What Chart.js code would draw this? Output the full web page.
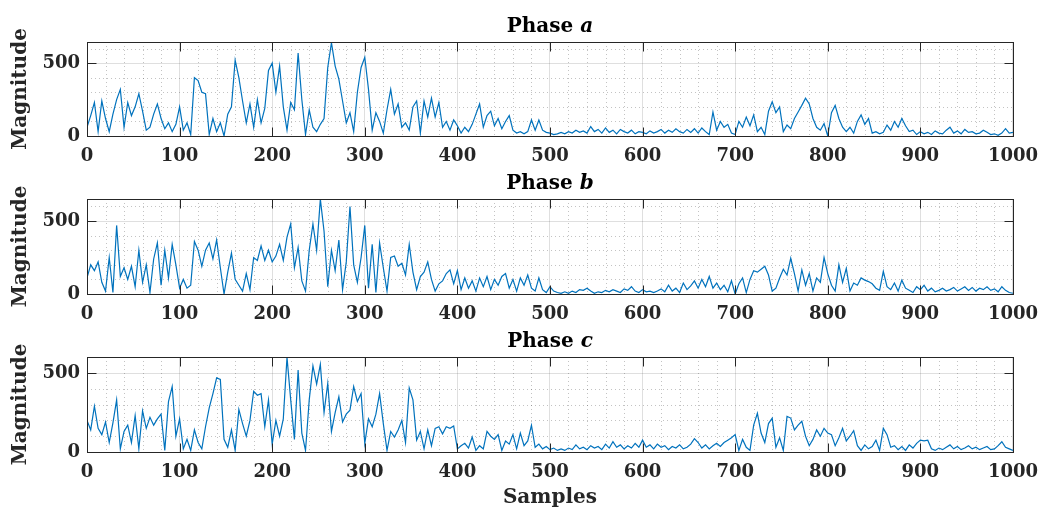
<!DOCTYPE html>
<html>
<head>
<meta charset="utf-8">
<script src="https://cdn.jsdelivr.net/npm/chart.js@4.4.1/dist/chart.umd.min.js"></script>
<style>
  html, body { margin: 0; padding: 0; background: #fff; }
  #wrap { position: relative; width: 1048px; height: 510px; overflow: hidden; }
  canvas { position: absolute; left: 0; }
</style>
</head>
<body>
<div id="wrap">
  <canvas id="phase-a" width="1048" height="170" style="top:0px"></canvas>
  <canvas id="phase-b" width="1048" height="160" style="top:170px"></canvas>
  <canvas id="phase-c" width="1048" height="180" style="top:330px"></canvas>
</div>
<script>
// magnitudes sampled every 4 samples, 0..1000
const sampleStep = 4;
const xTicks = [0, 100, 200, 300, 400, 500, 600, 700, 800, 900, 1000];
const yTicks = [0, 500];

const phaseA = [
  60, 140, 230, 30, 240, 120, 30, 150, 250, 320,      // 0
  60, 230, 140, 200, 290, 170, 40, 60, 150, 220,      // 40
  120, 50, 90, 30, 80, 200, 40, 90, 10, 400,          // 80
  380, 300, 290, 10, 120, 30, 90, 0, 150, 200,        // 120
  520, 400, 240, 90, 220, 60, 250, 90, 190, 450,      // 160
  500, 300, 480, 200, 40, 230, 180, 570, 250, 10,     // 200
  180, 60, 30, 80, 120, 470, 640, 480, 390, 240,      // 240
  90, 160, 30, 300, 470, 540, 320, 40, 160, 100,      // 280
  20, 180, 320, 150, 220, 60, 90, 40, 200, 240,       // 320
  20, 240, 130, 260, 130, 230, 60, 100, 40, 110,      // 360
  70, 20, 60, 30, 80, 150, 220, 60, 140, 170,         // 400
  70, 120, 50, 100, 140, 40, 20, 30, 15, 30,          // 440
  110, 40, 110, 40, 25, 20, 10, 15, 25, 15,           // 480
  30, 20, 40, 25, 35, 20, 65, 30, 45, 20,             // 520
  55, 25, 40, 15, 45, 30, 20, 40, 15, 30,             // 560
  25, 15, 35, 20, 30, 45, 20, 40, 25, 50,             // 600
  30, 20, 45, 25, 50, 20, 55, 30, 10, 165,            // 640
  40, 100, 60, 80, 20, 10, 100, 60, 130, 70,          // 680
  145, 30, 60, 10, 170, 235, 160, 200, 30, 75,        // 720
  50, 120, 165, 210, 260, 220, 120, 60, 40, 85,       // 760
  0, 160, 210, 120, 60, 30, 60, 20, 100, 145,         // 800
  80, 120, 20, 30, 15, 25, 75, 40, 100, 60,           // 840
  120, 70, 30, 40, 10, 30, 15, 25, 10, 35,            // 880
  20, 15, 40, 60, 20, 35, 15, 45, 25, 30,             // 920
  15, 20, 40, 25, 10, 15, 5, 20, 50, 20, 25           // 960
];

const phaseB = [
  110, 200, 160, 220, 80, 20, 250, 10, 470, 120,      // 0
  180, 100, 190, 50, 300, 80, 200, 10, 240, 350,      // 40
  60, 300, 110, 340, 200, 40, 100, 40, 60, 360,       // 80
  300, 190, 300, 350, 240, 370, 180, 0, 150, 280,     // 120
  100, 60, 20, 140, 30, 250, 230, 330, 230, 300,      // 160
  220, 260, 340, 230, 390, 480, 180, 320, 90, 20,     // 200
  300, 480, 300, 650, 430, 50, 300, 160, 370, 30,     // 240
  220, 600, 200, 80, 250, 470, 40, 340, 10, 350,      // 280
  180, 20, 250, 260, 190, 210, 130, 340, 150, 30,     // 320
  120, 150, 220, 100, 20, 70, 90, 140, 165, 70,       // 360
  160, 30, 110, 40, 90, 20, 110, 50, 120, 30,         // 400
  100, 60, 120, 140, 40, 100, 20, 110, 60, 130,       // 440
  40, 20, 110, 30, 10, 50, 20, 10, 5, 15,             // 480
  5, 20, 10, 30, 25, 40, 20, 5, 15, 10,               // 520
  25, 15, 30, 20, 10, 35, 25, 50, 20, 10,             // 560
  30, 15, 20, 10, 20, 35, 15, 60, 20, 40,             // 600
  10, 75, 30, 55, 90, 40, 100, 50, 120, 40,           // 640
  75, 30, 60, 15, 90, 0, 70, 110, 10, 100,            // 680
  160, 150, 170, 190, 130, 20, 40, 110, 170, 130,     // 720
  245, 140, 20, 165, 60, 140, 20, 110, 80, 250,       // 760
  140, 60, 20, 200, 80, 175, 20, 75, 60, 110,         // 800
  95, 85, 70, 40, 25, 155, 50, 30, 75, 20,            // 840
  95, 40, 25, 10, 50, 30, 60, 20, 40, 15,             // 880
  25, 40, 20, 30, 45, 20, 35, 50, 25, 45,             // 920
  20, 40, 30, 50, 25, 35, 15, 50, 25, 10, 5           // 960
];

const phaseC = [
  200, 140, 290, 150, 110, 190, 60, 185, 330, 20,     // 0
  130, 170, 60, 230, 20, 260, 150, 220, 170, 210,     // 40
  240, 10, 320, 415, 100, 210, 20, 80, 10, 140,       // 80
  60, 20, 160, 280, 370, 470, 460, 80, 30, 140,       // 120
  10, 270, 180, 100, 200, 385, 360, 370, 160, 330,    // 160
  50, 200, 100, 210, 600, 330, 80, 520, 120, 10,      // 200
  330, 545, 430, 555, 250, 435, 130, 250, 350, 190,   // 240
  240, 265, 415, 320, 370, 55, 210, 160, 240, 370,    // 280
  180, 10, 130, 95, 140, 200, 60, 405, 330, 75,       // 320
  130, 20, 140, 40, 150, 160, 115, 160, 150, 165,     // 360
  20, 40, 55, 25, 95, 10, 40, 20, 130, 100,           // 400
  80, 110, 10, 70, 50, 110, 20, 120, 40, 70,          // 440
  170, 30, 50, 20, 35, 15, 25, 10, 20, 10,            // 480
  25, 15, 45, 20, 30, 15, 40, 25, 35, 15,             // 520
  50, 25, 65, 30, 45, 20, 40, 25, 55, 30,             // 560
  75, 30, 45, 20, 50, 30, 40, 15, 35, 25,             // 600
  45, 20, 30, 50, 85, 60, 25, 45, 20, 40,             // 640
  55, 35, 60, 75, 90, 110, 10, 80, 30, 10,            // 680
  170, 245, 120, 60, 180, 215, 30, 90, 10, 225,       // 720
  215, 140, 170, 195, 100, 40, 80, 140, 100, 150,     // 760
  120, 110, 40, 90, 150, 70, 100, 135, 40, 10,        // 800
  45, 20, 35, 75, 10, 150, 110, 30, 40, 15,           // 840
  35, 10, 45, 25, 55, 75, 70, 75, 20, 10,             // 880
  25, 15, 30, 45, 20, 35, 15, 25, 40, 20,             // 920
  30, 15, 25, 35, 15, 20, 40, 65, 30, 20, 10          // 960
];

const FONT = '"DejaVu Serif", serif';
const TEXT = '#262626';
const LINE = '#0072BD';
const GRID_MAJOR = 'rgba(38,38,38,0.15)';
const GRID_MINOR = 'rgba(38,38,38,0.28)';
const TICK_LEN = 9;

// MATLAB-like frame: dotted minor grid under the line, box + inward ticks + title on top
const axesFrame = {
  id: 'axesFrame',
  beforeDatasetsDraw(chart) {
    const { ctx, chartArea: a, scales: { x, y } } = chart;
    ctx.save();
    ctx.strokeStyle = GRID_MINOR;
    ctx.lineWidth = 1;
    ctx.setLineDash([1, 3]);
    ctx.beginPath();
    for (let v = 20; v < 1000; v += 20) {
      if (v % 100 === 0) continue;
      const px = Math.round(x.getPixelForValue(v)) + 0.5;
      ctx.moveTo(px, a.top); ctx.lineTo(px, a.bottom);
    }
    for (let v = 100; v <= y.max; v += 100) {
      if (v % 500 === 0) continue;
      const py = Math.round(y.getPixelForValue(v)) + 0.5;
      ctx.moveTo(a.left, py); ctx.lineTo(a.right, py);
    }
    ctx.stroke();
    ctx.restore();
  },
  afterDatasetsDraw(chart, args, opts) {
    const { ctx, chartArea: a, scales: { x, y } } = chart;
    const L = Math.round(a.left) + 0.5, R = Math.round(a.right) + 0.5;
    const T = Math.round(a.top) + 0.5, B = Math.round(a.bottom) + 0.5;
    ctx.save();
    ctx.strokeStyle = TEXT;
    ctx.lineWidth = 1;
    ctx.strokeRect(L, T, R - L, B - T);
    ctx.beginPath();
    xTicks.forEach(v => {
      const px = Math.round(x.getPixelForValue(v)) + 0.5;
      ctx.moveTo(px, B); ctx.lineTo(px, B - TICK_LEN);
      ctx.moveTo(px, T); ctx.lineTo(px, T + TICK_LEN);
    });
    yTicks.forEach(v => {
      const py = Math.round(y.getPixelForValue(v)) + 0.5;
      ctx.moveTo(L, py); ctx.lineTo(L + TICK_LEN, py);
      ctx.moveTo(R, py); ctx.lineTo(R - TICK_LEN, py);
    });
    ctx.stroke();

    // title: "Phase " upright, phase letter italic
    const head = 'Phase ';
    const fHead = 'bold 20px ' + FONT;
    const fLetter = 'italic bold 20px ' + FONT;
    ctx.font = fHead;
    const w1 = ctx.measureText(head).width;
    ctx.font = fLetter;
    const w2 = ctx.measureText(opts.letter).width;
    const cx = (a.left + a.right) / 2;
    const base = a.top - 10.5;
    ctx.fillStyle = '#000';
    ctx.textBaseline = 'alphabetic';
    ctx.textAlign = 'left';
    ctx.font = fHead;
    ctx.fillText(head, cx - (w1 + w2) / 2, base);
    ctx.font = fLetter;
    ctx.fillText(opts.letter, cx - (w1 + w2) / 2 + w1, base);
    ctx.restore();
  }
};

function drawPhase(id, values, yMax, letter, padTop, xHeight, showXTitle) {
  const points = values.map((v, i) => ({ x: i * sampleStep, y: v }));
  return new Chart(document.getElementById(id), {
    type: 'line',
    data: {
      datasets: [{
        data: points,
        borderColor: LINE,
        borderWidth: 1.2,
        pointRadius: 0,
        tension: 0,
        fill: false,
      }],
    },
    options: {
      responsive: false,
      animation: false,
      events: [],
      layout: { padding: { top: padTop, right: 29, bottom: 0, left: 0 } },
      plugins: {
        legend: { display: false },
        tooltip: { enabled: false },
        axesFrame: { letter: letter },
      },
      scales: {
        x: {
          type: 'linear',
          min: 0,
          max: 1000,
          afterBuildTicks: s => { s.ticks = xTicks.map(v => ({ value: v })); },
          afterFit: s => { s.height = xHeight; },
          ticks: {
            font: { family: FONT, size: 18, weight: 'bold' },
            color: TEXT,
            padding: 10,
            maxRotation: 0,
            autoSkip: false,
            callback: v => String(v),
          },
          grid: { color: GRID_MAJOR, drawTicks: false },
          border: { display: false },
          title: {
            display: showXTitle,
            text: 'Samples',
            color: TEXT,
            font: { family: FONT, size: 20, weight: 'bold' },
            padding: { top: 0, bottom: 0 },
          },
        },
        y: {
          type: 'linear',
          min: 0,
          max: yMax,
          afterBuildTicks: s => { s.ticks = yTicks.map(v => ({ value: v })); },
          afterFit: s => { s.width = 87; },
          ticks: {
            font: { family: FONT, size: 18, weight: 'bold' },
            color: TEXT,
            padding: 7,
            callback: v => String(v),
          },
          grid: { color: GRID_MAJOR, drawTicks: false },
          border: { display: false },
          title: {
            display: true,
            text: 'Magnitude',
            color: TEXT,
            font: { family: FONT, size: 20, weight: 'bold' },
            padding: { top: 9, bottom: 0 },
          },
        },
      },
    },
    plugins: [axesFrame],
  });
}

drawPhase('phase-a', phaseA, 645, 'a', 42, 34, false);
drawPhase('phase-b', phaseB, 651, 'b', 29, 36, false);
drawPhase('phase-c', phaseC, 602, 'c', 27, 58, true);
</script>
</body>
</html>
